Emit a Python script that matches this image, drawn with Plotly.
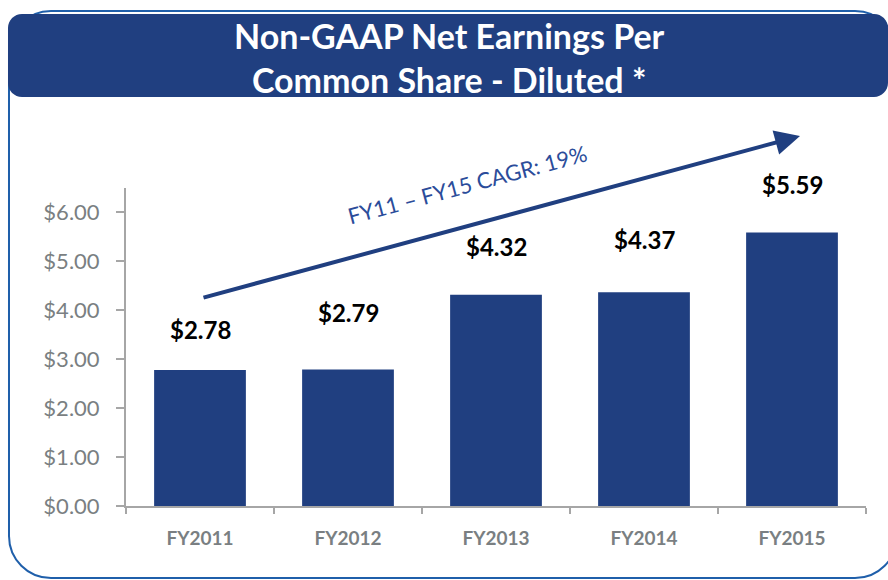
import plotly.graph_objects as go

# ---- data ----
categories = ["FY2011", "FY2012", "FY2013", "FY2014", "FY2015"]
eps_values = [2.78, 2.79, 4.32, 4.37, 5.59]
value_labels = ["$2.78", "$2.79", "$4.32", "$4.37", "$5.59"]
y_tick_values = [0, 1, 2, 3, 4, 5, 6]
title_text = "Non-GAAP Net Earnings Per<br>Common Share - Diluted *"
cagr_text = "FY11 – FY15 CAGR: 19%"

# ---- style ----
W, H = 888, 580
ML, MR, MT, MB = 126, 22, 188, 74
PW, PH = W - ML - MR, H - MT - MB
NAVY = "#203F80"
FRAME = "#1F5FAA"
AXIS = "#A6A6A6"
GREY_TXT = "#7A7F82"
FONT = "Lato"
label_shift = [40, 57, 48, 53, 48]


def p(x, y):
    return ((x - ML) / PW, (H - MB - y) / PH)


def rrect(x0, y0, x1, y1, r):
    k = 0.5523 * r
    pts = [
        ("M", [(x0 + r, y0)]),
        ("L", [(x1 - r, y0)]),
        ("C", [(x1 - r + k, y0), (x1, y0 + r - k), (x1, y0 + r)]),
        ("L", [(x1, y1 - r)]),
        ("C", [(x1, y1 - r + k), (x1 - r + k, y1), (x1 - r, y1)]),
        ("L", [(x0 + r, y1)]),
        ("C", [(x0 + r - k, y1), (x0, y1 - r + k), (x0, y1 - r)]),
        ("L", [(x0, y0 + r)]),
        ("C", [(x0, y0 + r - k), (x0 + r - k, y0), (x0 + r, y0)]),
    ]
    s = ""
    for cmd, coords in pts:
        s += cmd + " " + " ".join("%.5f,%.5f" % p(cx, cy) for cx, cy in coords) + " "
    return s + "Z"


fig = go.Figure()
fig.add_trace(go.Bar(
    x=categories, y=eps_values, marker=dict(color=NAVY, line=dict(width=0)),
    hoverinfo="skip",
))

shapes = [
    dict(type="path", xref="paper", yref="paper", path=rrect(9, 11, 897, 578, 42),
         line=dict(color=FRAME, width=2), fillcolor="rgba(0,0,0,0)", layer="below"),
    dict(type="path", xref="paper", yref="paper", path=rrect(8, 14, 888, 97, 14),
         line=dict(width=0), fillcolor=NAVY, layer="above"),
]

annotations = []
tx, ty = p(449, 57)
annotations.append(dict(
    xref="paper", yref="paper", x=tx, y=ty, text="<b>" + title_text + "</b>",
    showarrow=False, font=dict(family=FONT, size=34, color="white"),
    xanchor="center", yanchor="middle", align="center",
))
for c, v, lab, sh in zip(categories, eps_values, value_labels, label_shift):
    annotations.append(dict(
        x=c, y=v, text="<b>" + lab + "</b>", showarrow=False, yshift=sh,
        font=dict(family=FONT, size=24, color="black"), yanchor="middle",
    ))

hx, hy = p(800, 136)
annotations.append(dict(
    xref="paper", yref="paper", x=hx, y=hy, ax=202 - 800, ay=298 - 136,
    text="", showarrow=True, arrowhead=2, arrowwidth=4, arrowsize=1.25,
    arrowcolor=NAVY, standoff=0, startstandoff=0,
))
cx, cy = p(467, 184)
annotations.append(dict(
    xref="paper", yref="paper", x=cx, y=cy, text=cagr_text, showarrow=False,
    textangle=-15, font=dict(family=FONT, size=22, color="#2B4C9A"),
    xanchor="center", yanchor="middle",
))

fig.update_layout(
    width=W, height=H,
    margin=dict(l=ML, r=MR, t=MT, b=MB, pad=0),
    paper_bgcolor="white", plot_bgcolor="white",
    showlegend=False, bargap=0.38,
    shapes=shapes, annotations=annotations,
    font=dict(family=FONT),
)
fig.update_xaxes(
    showline=True, linecolor=AXIS, linewidth=2, showgrid=False, zeroline=False,
    ticks="outside", tickson="boundaries", ticklen=6, tickwidth=2, tickcolor=AXIS,
    tickfont=dict(family=FONT, size=19, color=GREY_TXT, weight="bold"),
    ticklabelstandoff=14,
    range=[-0.5, 4.5],
)
fig.update_yaxes(
    showline=True, linecolor=AXIS, linewidth=2, showgrid=False, zeroline=False,
    ticks="outside", ticklen=8, tickwidth=2, tickcolor=AXIS,
    tickvals=y_tick_values, tickformat="$.2f", range=[0, 6.5],
    tickfont=dict(family=FONT, size=22, color=GREY_TXT),
    ticklabelstandoff=12,
)

fig.write_html(
    "out.html",
    config={"displayModeBar": False},
    post_script="document.body.style.margin='0';document.body.style.padding='0';"
                "document.body.style.overflow='hidden';",
)
